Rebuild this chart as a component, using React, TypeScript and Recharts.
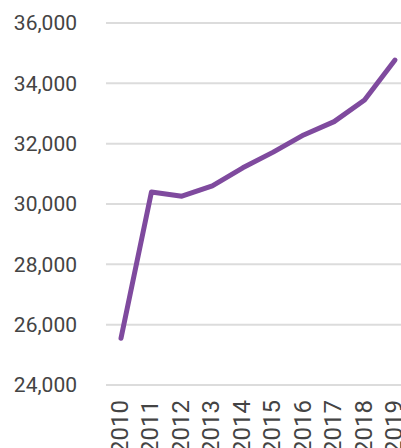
import React from 'react';
import { LineChart, Line, XAxis, YAxis, CartesianGrid } from 'recharts';

const years = ['2010', '2011', '2012', '2013', '2014', '2015', '2016', '2017', '2018', '2019'];
const values = [25550, 30400, 30260, 30600, 31200, 31720, 32290, 32730, 33450, 34770];
const yTicks = [24000, 26000, 28000, 30000, 32000, 34000, 36000];

const data = years.map((y, i) => ({ year: y, value: values[i] }));

const fmt = (v: number) => v.toLocaleString('en-US');

const XTick = (props: any) => {
  const { x, y, payload } = props;
  return (
    <text
      x={x}
      y={y}
      dy={7}
      textAnchor="end"
      fill="#444444"
      fontSize={24}
      fontFamily="Roboto"
      transform={`rotate(-90, ${x}, ${y})`}
    >
      {payload.value}
    </text>
  );
};

export default function App() {
  return (
    <div style={{ position: 'absolute', left: 0, top: 0, fontFamily: 'Roboto' }}>
      <LineChart width={401} height={448} data={data} margin={{ top: 23, right: 0, bottom: 0, left: 0 }}>
        <CartesianGrid horizontal vertical={false} stroke="#dcdcdc" strokeWidth={2} />
        <XAxis
          dataKey="year"
          interval={0}
          tickLine={false}
          axisLine={false}
          tickSize={0}
          tickMargin={15}
          height={63}
          padding={{ left: 15, right: 6 }}
          tick={<XTick />}
        />
        <YAxis
          domain={[24000, 36000]}
          ticks={yTicks}
          tickFormatter={fmt}
          width={106}
          tickLine={false}
          axisLine={false}
          tickSize={0}
          tickMargin={29}
          tick={{ fill: '#444444', fontSize: 21, fontFamily: 'Roboto' }}
        />
        <Line
          type="linear"
          dataKey="value"
          stroke="#7f4a9e"
          strokeWidth={5}
          strokeLinecap="round"
          strokeLinejoin="round"
          dot={false}
          activeDot={false}
          isAnimationActive={false}
        />
      </LineChart>
    </div>
  );
}
